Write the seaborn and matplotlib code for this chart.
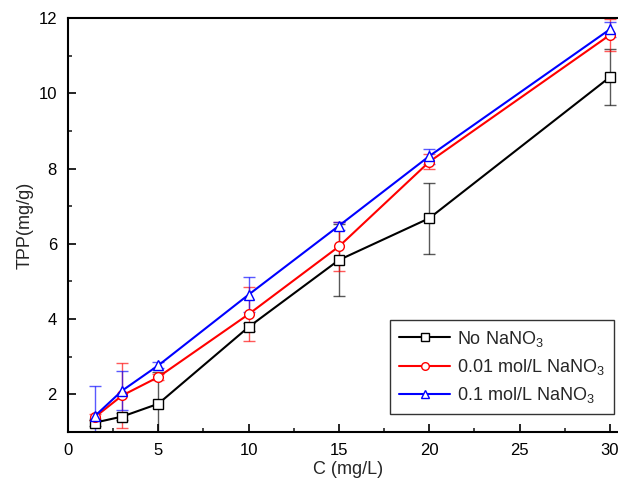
import numpy as np
import pandas as pd
import matplotlib
matplotlib.use("Agg")
import matplotlib.pyplot as plt
import seaborn as sns

conc = [1.5, 3, 5, 10, 15, 20, 30]
series_names = ["No NaNO$_3$", "0.01 mol/L NaNO$_3$", "0.1 mol/L NaNO$_3$"]
tpp_none = [1.25, 1.41, 1.75, 3.79, 5.57, 6.68, 10.43]
err_none = [0.08, 0.1, 0.85, 0.1, 0.95, 0.94, 0.75]
tpp_001 = [1.40, 1.97, 2.46, 4.13, 5.93, 8.18, 11.55]
err_001 = [0.08, 0.86, 0.08, 0.71, 0.65, 0.2, 0.42]
tpp_01 = [1.43, 2.10, 2.77, 4.65, 6.48, 8.33, 11.70]
err_01 = [0.78, 0.52, 0.08, 0.47, 0.1, 0.2, 0.2]

colors = ["black", "red", "blue"]
markers = ["s", "o", "^"]

df = pd.DataFrame({
    "C": conc * 3,
    "TPP": tpp_none + tpp_001 + tpp_01,
    "err": err_none + err_001 + err_01,
    "series": [series_names[0]] * 7 + [series_names[1]] * 7 + [series_names[2]] * 7,
})

sns.set_style("ticks")
plt.rcParams["font.family"] = ["Liberation Sans", "DejaVu Sans"]
plt.rcParams["mathtext.fontset"] = "custom"
plt.rcParams["mathtext.rm"] = "Liberation Sans"

fig = plt.figure(figsize=(6.18, 4.86), dpi=100)
ax = fig.add_axes([68 / 618, 54 / 486, 560 / 618, 414 / 486])

sns.lineplot(data=df, x="C", y="TPP", hue="series", style="series",
             palette=dict(zip(series_names, colors)),
             markers=dict(zip(series_names, markers)),
             dashes=False, markersize=7, linewidth=1.5, ax=ax, zorder=3,
             legend=True)

data_lines = list(ax.lines)[:3]
for line, c in zip(data_lines, colors):
    line.set_markeredgecolor(c)
    line.set_markerfacecolor("white")
    line.set_markeredgewidth(1.0)

for name, c in zip(series_names, colors):
    sub = df[df["series"] == name]
    ax.errorbar(sub["C"], sub["TPP"], yerr=sub["err"], fmt="none", ecolor=c,
                elinewidth=1.0, capsize=4, capthick=1.0, alpha=0.65, zorder=2)

ax.set_xlim(0, 31)
ax.set_ylim(1, 12)
ax.set_xticks([0, 5, 10, 15, 20, 25, 30])
ax.set_xticks([2.5, 7.5, 12.5, 17.5, 22.5, 27.5], minor=True)
ax.set_yticks([2, 4, 6, 8, 10, 12])
ax.set_yticks([3, 5, 7, 9, 11], minor=True)
ax.tick_params(axis="both", which="major", direction="in", length=6, width=1.2,
               labelsize=12, pad=8, colors="black")
ax.tick_params(axis="both", which="minor", direction="in", length=3, width=1.2)
for s in ax.spines.values():
    s.set_linewidth(1.5)
    s.set_color("black")

ax.set_xlabel("C (mg/L)", fontsize=13, labelpad=2)
ax.set_ylabel("TPP(mg/g)", fontsize=13, labelpad=3)

handles, labels = ax.get_legend_handles_labels()
for h, c in zip(handles, colors):
    h.set_markerfacecolor("white")
    h.set_markeredgecolor(c)
    h.set_markeredgewidth(1.0)
    h.set_markersize(5.5)
    h.set_linewidth(1.5)
leg = ax.legend(handles, labels, loc="lower right",
                bbox_to_anchor=(614 / 618, 1 - 414 / 486),
                bbox_transform=fig.transFigure, borderaxespad=0,
                fontsize=13, frameon=True, fancybox=False, edgecolor="black",
                handlelength=2.8, borderpad=0.5, labelspacing=0.45, handletextpad=0.4)
leg.get_frame().set_linewidth(1.0)

fig.savefig("out.png", dpi=100)
